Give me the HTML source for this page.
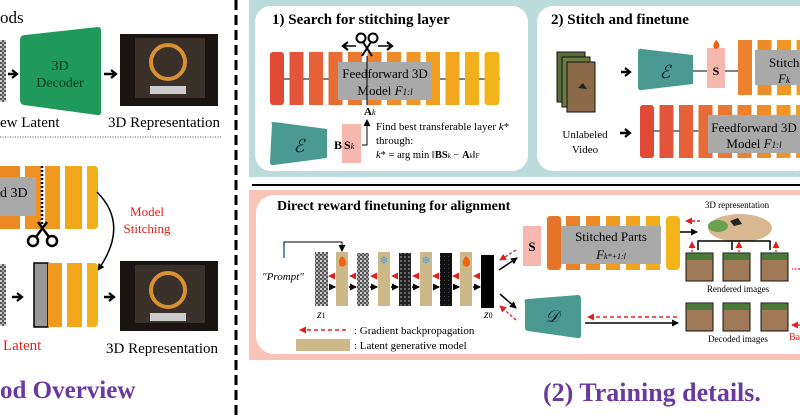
<!DOCTYPE html>
<html><head><meta charset="utf-8"><style>
html,body{margin:0;padding:0;background:#fff;}
svg{display:block;font-family:"Liberation Serif",serif;}
</style></head><body>
<svg width="800" height="419" viewBox="0 0 800 419" xmlns="http://www.w3.org/2000/svg">
<defs>
<marker id="ab" markerUnits="userSpaceOnUse" markerWidth="7" markerHeight="7" refX="6" refY="3.5" orient="auto"><path d="M0,0 L7,3.5 L0,7 z" fill="#000"/></marker>
<marker id="ar" markerUnits="userSpaceOnUse" markerWidth="7" markerHeight="7" refX="6" refY="3.5" orient="auto"><path d="M0,0 L7,3.5 L0,7 z" fill="#e0201c"/></marker>
<marker id="ac" markerUnits="userSpaceOnUse" markerWidth="8" markerHeight="10" refX="6" refY="5" orient="auto"><path d="M1,1 L6,5 L1,9" fill="none" stroke="#000" stroke-width="2.2"/></marker>
<pattern id="noise" width="4" height="4" patternUnits="userSpaceOnUse"><rect width="4" height="4" fill="#555"/><rect width="2" height="2" fill="#ccc"/><rect x="2" y="2" width="2" height="2" fill="#999"/></pattern>
<pattern id="noise2" width="4" height="4" patternUnits="userSpaceOnUse"><rect width="4" height="4" fill="#222"/><rect width="2" height="2" fill="#666"/></pattern>
<pattern id="noise3" width="4" height="4" patternUnits="userSpaceOnUse"><rect width="4" height="4" fill="#111"/><rect width="1" height="1" fill="#444"/></pattern>
</defs>

<!-- LEFT PANEL -->
<text x="0" y="23" font-size="17">ods</text>
<rect x="0" y="40" width="6" height="62" fill="url(#noise)"/>
<line x1="8" y1="74" x2="17" y2="74" stroke="#000" stroke-width="2.5" marker-end="url(#ac)"/>
<path d="M20,40 Q20,35 25,35 L98,27 Q101,27 101,31 L101,112 Q101,116 97,115 L24,105 Q20,104 20,100 Z" fill="#1f9a5a"/>
<text x="60" y="70" font-size="14" text-anchor="middle" fill="#0d3a20">3D</text>
<text x="60" y="87" font-size="14" text-anchor="middle" fill="#0d3a20">Decoder</text>
<line x1="104" y1="74" x2="116" y2="74" stroke="#000" stroke-width="2.5" marker-end="url(#ac)"/>
<rect x="120" y="34" width="98" height="72" fill="#1a1512"/>
<rect x="135" y="38" width="70" height="60" fill="#3a302a"/>
<circle cx="168" cy="62" r="17" fill="none" stroke="#d99030" stroke-width="4"/>
<rect x="150" y="86" width="36" height="8" fill="#ccc"/>
<text x="0" y="127" font-size="15">ew Latent</text>
<text x="108" y="127" font-size="15">3D Representation</text>
<line x1="0" y1="137" x2="222" y2="137" stroke="#555" stroke-width="1" stroke-dasharray="1,1.5"/>

<rect x="0" y="166" width="20" height="63" fill="#ec8a24"/>
<rect x="25" y="166" width="16" height="63" fill="#ef9222"/>
<rect x="45" y="166" width="15" height="63" fill="#f19a1e"/>
<rect x="65" y="166" width="17" height="63" fill="#f2a61c"/>
<path d="M87,166 L94,166 Q98,166 98,170 L98,225 Q98,229 94,229 L87,229 Z" fill="#f2b018"/>
<line x1="42" y1="166" x2="42" y2="225" stroke="#000" stroke-width="2.5" stroke-dasharray="2,2"/>
<rect x="0" y="177" width="36" height="39" fill="#a9a9a9"/>
<text x="0" y="197" font-size="14">d 3D</text>
<circle cx="33" cy="241" r="5" fill="none" stroke="#000" stroke-width="2.5"/>
<circle cx="52" cy="241" r="5" fill="none" stroke="#000" stroke-width="2.5"/>
<line x1="36" y1="237" x2="47" y2="222" stroke="#000" stroke-width="2.5"/>
<line x1="49" y1="237" x2="38" y2="222" stroke="#000" stroke-width="2.5"/>
<path d="M97,192 Q130,225 98,270" fill="none" stroke="#000" stroke-width="1.5" marker-end="url(#ab)"/>
<text x="147" y="216" font-size="13" fill="#e0201c" text-anchor="middle">Model</text>
<text x="147" y="233" font-size="13" fill="#e0201c" text-anchor="middle">Stitching</text>

<rect x="0" y="264" width="6" height="62" fill="url(#noise)"/>
<line x1="12" y1="297" x2="22" y2="297" stroke="#000" stroke-width="2.5" marker-end="url(#ac)"/>
<rect x="34" y="263" width="14" height="64" fill="#999" stroke="#000" stroke-width="1.5"/>
<rect x="48" y="263" width="14" height="64" fill="#ef9a1e"/>
<rect x="67" y="263" width="15" height="64" fill="#f2a61c"/>
<path d="M87,263 L94,263 Q98,263 98,267 L98,323 Q98,327 94,327 L87,327 Z" fill="#f2b018"/>
<line x1="104" y1="297" x2="114" y2="297" stroke="#000" stroke-width="2.5" marker-end="url(#ac)"/>
<rect x="120" y="261" width="98" height="70" fill="#1a1512"/>
<rect x="135" y="265" width="70" height="58" fill="#3a302a"/>
<circle cx="168" cy="290" r="17" fill="none" stroke="#d99030" stroke-width="4"/>
<rect x="150" y="313" width="36" height="8" fill="#ccc"/>
<text x="3" y="350" font-size="15" fill="#e0201c">Latent</text>
<text x="106" y="353" font-size="15">3D Representation</text>
<text x="0" y="398" font-size="25" font-weight="bold" fill="#6a3aa0">od Overview</text>

<line x1="236" y1="0" x2="236" y2="419" stroke="#000" stroke-width="3" stroke-dasharray="10,5"/>

<!-- RIGHT TOP band -->
<rect x="249" y="0" width="551" height="177" fill="#bcdcdc"/>
<rect x="255" y="6" width="273" height="165" rx="16" fill="#fff"/>
<rect x="537" y="6" width="275" height="165" rx="16" fill="#fff"/>

<text x="272" y="24" font-size="15" font-weight="bold">1) Search for stitching layer</text>
<line x1="270" y1="79" x2="500" y2="79" stroke="#000"/>
<g>
<rect x="270" y="52" width="14" height="53" rx="3" fill="#e04a35"/>
<rect x="289.5" y="52" width="14" height="53" fill="#e3553a"/>
<rect x="309" y="52" width="14" height="53" fill="#e6603a"/>
<rect x="328.5" y="52" width="14" height="53" fill="#e86c35"/>
<rect x="348" y="52" width="14" height="53" fill="#ea7830"/>
<rect x="367.5" y="52" width="14" height="53" fill="#ec822c"/>
<rect x="387" y="52" width="14" height="53" fill="#ee8c28"/>
<rect x="406.5" y="52" width="14" height="53" fill="#ef9624"/>
<rect x="426" y="52" width="14" height="53" fill="#f09e20"/>
<rect x="445.5" y="52" width="14" height="53" fill="#f1a61e"/>
<rect x="465" y="52" width="14" height="53" fill="#f2ae1c"/>
<rect x="484.5" y="52" width="15" height="53" rx="3" fill="#f2b41a"/>
</g>
<rect x="338" y="62" width="94" height="38" fill="#a9a9a9"/>
<text x="385" y="78" font-size="13" text-anchor="middle">Feedforward 3D</text>
<text x="385" y="95" font-size="13" text-anchor="middle">Model <tspan font-style="italic">F</tspan><tspan font-size="9" font-style="italic">1:l</tspan></text>
<circle cx="361" cy="38" r="4.5" fill="none" stroke="#000" stroke-width="2"/>
<circle cx="373" cy="38" r="4.5" fill="none" stroke="#000" stroke-width="2"/>
<line x1="363" y1="42" x2="372" y2="56" stroke="#000" stroke-width="2"/>
<line x1="371" y1="42" x2="362" y2="56" stroke="#000" stroke-width="2"/>
<line x1="356" y1="46" x2="343" y2="46" stroke="#000" stroke-width="1.5" marker-end="url(#ac)"/>
<line x1="378" y1="46" x2="392" y2="46" stroke="#000" stroke-width="1.5" marker-end="url(#ac)"/>
<line x1="367" y1="56" x2="367" y2="105" stroke="#000" stroke-width="1"/>
<text x="364" y="115" font-size="11" font-weight="bold">A<tspan font-size="8" font-style="italic" font-weight="normal">k</tspan></text>
<path d="M362,145 L367,145 L367,120" fill="none" stroke="#000" stroke-width="1" marker-end="url(#ab)"/>
<path d="M272,124 Q270,122 274,122 L327,129 L327,158 L274,165 Q270,166 270,162 Z" fill="#4a9a92"/>
<text x="299" y="152" font-size="18" font-style="italic" text-anchor="middle" fill="#123">ℰ</text>
<text x="334" y="149" font-size="12" font-weight="bold">B</text>
<rect x="342" y="124" width="19" height="39" fill="#f6b8ae"/>
<text x="344" y="149" font-size="12" font-weight="bold">S<tspan font-size="8" font-style="italic" font-weight="normal">k</tspan></text>
<text x="376" y="130" font-size="11">Find best transferable layer <tspan font-style="italic">k</tspan>*</text>
<text x="376" y="144" font-size="11">through:</text>
<text x="376" y="158" font-size="10.5"><tspan font-style="italic">k</tspan>* = arg min ‖<tspan font-weight="bold">BS</tspan><tspan font-size="7" font-style="italic">k</tspan> − <tspan font-weight="bold">A</tspan><tspan font-size="7" font-style="italic">k</tspan>‖<tspan font-size="7">F</tspan></text>

<!-- Box 2 -->
<text x="551" y="24" font-size="15" font-weight="bold">2) Stitch and finetune</text>
<rect x="557" y="52" width="28" height="50" fill="#5a6a3a" stroke="#111"/>
<rect x="562" y="57" width="28" height="50" fill="#6a7a40" stroke="#111"/>
<rect x="567" y="62" width="28" height="50" fill="#8a6a48" stroke="#111"/>
<path d="M578,88 l5,-5 l4,6 z" fill="#222"/>
<line x1="621" y1="72" x2="630" y2="72" stroke="#000" stroke-width="2.5" marker-end="url(#ac)"/>
<path d="M638,52 Q638,48 642,49 L693,55 L693,84 L642,90 Q638,91 638,87 Z" fill="#4a9a92"/>
<text x="665" y="78" font-size="18" font-style="italic" text-anchor="middle" fill="#123">ℰ</text>
<line x1="693" y1="71" x2="738" y2="71" stroke="#000"/>
<rect x="707" y="48" width="18" height="40" fill="#f6b8ae"/>
<text x="716" y="75" font-size="12" font-weight="bold" text-anchor="middle">S</text>
<path d="M716,40 q-4,5 -2,8 q3,2 5,-1 q1,-4 -3,-7z" fill="#f06010"/>
<rect x="738" y="40" width="14" height="55" fill="#ec822c"/>
<rect x="757.5" y="40" width="14" height="55" fill="#ee8c28"/>
<rect x="777" y="40" width="14" height="55" fill="#ef9624"/>
<rect x="796.5" y="40" width="4" height="55" fill="#f09e20"/>
<rect x="755" y="50" width="45" height="35" fill="#a9a9a9"/>
<text x="769" y="67" font-size="13">Stitche</text>
<text x="778" y="83" font-size="13" font-style="italic">F<tspan font-size="9">k</tspan></text>
<text x="585" y="138" font-size="11" text-anchor="middle">Unlabeled</text>
<text x="585" y="153" font-size="11" text-anchor="middle">Video</text>
<line x1="620" y1="133" x2="630" y2="133" stroke="#000" stroke-width="2.5" marker-end="url(#ac)"/>
<line x1="640" y1="131" x2="800" y2="131" stroke="#000"/>
<rect x="640" y="105" width="14" height="53" rx="3" fill="#e04a35"/>
<rect x="659.5" y="105" width="14" height="53" fill="#e3553a"/>
<rect x="679" y="105" width="14" height="53" fill="#e6603a"/>
<rect x="698.5" y="105" width="14" height="53" fill="#e86c35"/>
<rect x="718" y="105" width="14" height="53" fill="#ea7830"/>
<rect x="737.5" y="105" width="14" height="53" fill="#ec822c"/>
<rect x="757" y="105" width="14" height="53" fill="#ee8c28"/>
<rect x="776.5" y="105" width="14" height="53" fill="#ef9624"/>
<rect x="796" y="105" width="4" height="53" fill="#f09e20"/>
<rect x="708" y="115" width="92" height="38" fill="#a9a9a9"/>
<text x="754" y="132" font-size="13" text-anchor="middle">Feedforward 3D</text>
<text x="754" y="148" font-size="13" text-anchor="middle">Model <tspan font-style="italic">F</tspan><tspan font-size="9" font-style="italic">1:l</tspan></text>

<line x1="252" y1="185" x2="800" y2="185" stroke="#000" stroke-width="2"/>

<!-- Bottom band -->
<rect x="249" y="190" width="551" height="170" fill="#f8c4b8"/>
<rect x="256" y="195" width="560" height="159" rx="18" fill="#fff"/>
<text x="277" y="210" font-size="14" font-weight="bold">Direct reward finetuning for alignment</text>
<path d="M284,258 L284,242 L342,242 L342,251" fill="none" stroke="#000" stroke-width="1" marker-end="url(#ab)"/>
<line x1="284" y1="245" x2="284" y2="258" stroke="#2a6aa0" stroke-width="1.5"/>
<text x="262" y="280" font-size="11" font-style="italic">"Prompt"</text>
<rect x="315" y="252" width="13" height="54" fill="url(#noise)"/>
<rect x="336" y="252" width="12" height="54" fill="#cdb889"/>
<rect x="357" y="253" width="12" height="53" fill="url(#noise)"/>
<rect x="378" y="252" width="12" height="54" fill="#cdb889"/>
<rect x="399" y="253" width="12" height="53" fill="url(#noise2)"/>
<rect x="420" y="252" width="12" height="54" fill="#cdb889"/>
<rect x="440" y="253" width="12" height="53" fill="url(#noise3)"/>
<rect x="460" y="252" width="12" height="54" fill="#cdb889"/>
<rect x="481" y="255" width="13" height="53" fill="#000"/>
<path d="M342,256 q-5,5 -2,10 q4,2 6,-2 q1,-4 -4,-8z" fill="#f06010"/>
<path d="M466,256 q-5,5 -2,10 q4,2 6,-2 q1,-4 -4,-8z" fill="#f06010"/>
<text x="384" y="264" font-size="11" text-anchor="middle" fill="#4aa0e0">❄</text>
<text x="426" y="264" font-size="11" text-anchor="middle" fill="#4aa0e0">❄</text>
<g stroke="#e0201c" stroke-width="1.5" stroke-dasharray="2,1.5">
<line x1="335" y1="276" x2="329" y2="276" marker-end="url(#ar)"/>
<line x1="356" y1="276" x2="350" y2="276" marker-end="url(#ar)"/>
<line x1="377" y1="276" x2="371" y2="276" marker-end="url(#ar)"/>
<line x1="398" y1="276" x2="392" y2="276" marker-end="url(#ar)"/>
<line x1="419" y1="276" x2="413" y2="276" marker-end="url(#ar)"/>
<line x1="439" y1="276" x2="433" y2="276" marker-end="url(#ar)"/>
<line x1="459" y1="276" x2="453" y2="276" marker-end="url(#ar)"/>
<line x1="480" y1="276" x2="474" y2="276" marker-end="url(#ar)"/>
</g>
<g stroke="#000" stroke-width="1.5">
<line x1="329" y1="287" x2="335" y2="287" marker-end="url(#ab)"/>
<line x1="349" y1="287" x2="356" y2="287" marker-end="url(#ab)"/>
<line x1="370" y1="287" x2="377" y2="287" marker-end="url(#ab)"/>
<line x1="391" y1="287" x2="398" y2="287" marker-end="url(#ab)"/>
<line x1="412" y1="287" x2="419" y2="287" marker-end="url(#ab)"/>
<line x1="433" y1="287" x2="439" y2="287" marker-end="url(#ab)"/>
<line x1="453" y1="287" x2="459" y2="287" marker-end="url(#ab)"/>
<line x1="473" y1="287" x2="480" y2="287" marker-end="url(#ab)"/>
</g>
<text x="317" y="318" font-size="12" font-style="italic">z<tspan font-size="8" font-style="normal">1</tspan></text>
<text x="484" y="318" font-size="12" font-style="italic">z<tspan font-size="8" font-style="normal">0</tspan></text>
<line x1="346" y1="330" x2="300" y2="330" stroke="#e0201c" stroke-width="1.5" stroke-dasharray="4,3" marker-end="url(#ar)"/>
<text x="354" y="334" font-size="11">: Gradient backpropagation</text>
<rect x="296" y="339" width="54" height="12" fill="#cdb889"/>
<text x="354" y="349" font-size="11">: Latent generative model</text>

<line x1="499" y1="270" x2="517" y2="258" stroke="#000" stroke-width="1.5" marker-end="url(#ab)"/>
<line x1="516" y1="250" x2="500" y2="260" stroke="#e0201c" stroke-width="1.3" stroke-dasharray="3,2" marker-end="url(#ar)"/>
<line x1="500" y1="294" x2="516" y2="308" stroke="#000" stroke-width="1.5" marker-end="url(#ab)"/>
<line x1="516" y1="320" x2="500" y2="306" stroke="#e0201c" stroke-width="1.3" stroke-dasharray="3,2" marker-end="url(#ar)"/>
<rect x="523" y="226" width="18" height="40" fill="#f6b8ae"/>
<text x="532" y="251" font-size="13" font-weight="bold" text-anchor="middle">S</text>
<rect x="547" y="216" width="14" height="54" rx="3" fill="#e57428"/>
<rect x="566" y="216" width="14" height="54" fill="#ea8028"/>
<rect x="586" y="216" width="14" height="54" fill="#ee8c26"/>
<rect x="606" y="216" width="14" height="54" fill="#f09a22"/>
<rect x="626" y="216" width="14" height="54" fill="#f1a41e"/>
<rect x="646" y="216" width="14" height="54" fill="#f2ac1c"/>
<rect x="666" y="216" width="14" height="54" rx="4" fill="#f2b418"/>
<rect x="561" y="226" width="100" height="38" fill="#a9a9a9"/>
<text x="611" y="241" font-size="13" text-anchor="middle">Stitched Parts</text>
<text x="611" y="259" font-size="13" text-anchor="middle" font-style="italic">F<tspan font-size="8">k*+1:l</tspan></text>
<path d="M525,303 Q523,299 528,299 L578,295 Q581,295 581,299 L581,335 Q581,339 577,338 L528,331 Q525,331 525,327 Z" fill="#4a9a92"/>
<text x="552" y="322" font-size="17" font-style="italic" text-anchor="middle" fill="#123">𝒟</text>
<line x1="677" y1="317" x2="588" y2="317" stroke="#e0201c" stroke-width="1.5" stroke-dasharray="4,3" marker-end="url(#ar)"/>
<line x1="585" y1="323" x2="678" y2="323" stroke="#000" stroke-width="1.5" marker-end="url(#ab)"/>

<text x="737" y="208" font-size="9" text-anchor="middle">3D representation</text>
<ellipse cx="740" cy="228" rx="32" ry="14" fill="#d8b890"/>
<ellipse cx="718" cy="226" rx="10" ry="6" fill="#6aa050"/>
<path d="M730,221 l8,-3 l4,6 l-8,2z" fill="#222"/>
<line x1="700" y1="221" x2="686" y2="221" stroke="#e0201c" stroke-width="1.5" stroke-dasharray="3,2" marker-end="url(#ar)"/>
<line x1="680" y1="232" x2="697" y2="232" stroke="#000" stroke-width="1.5" marker-end="url(#ab)"/>
<path d="M698,250 L698,241 L770,241 L770,250 M732,241 L732,250" fill="none" stroke="#000" stroke-width="1.5"/>
<g stroke="#e0201c" stroke-width="1.3" stroke-dasharray="2,1.5">
<line x1="692" y1="252" x2="692" y2="242" marker-end="url(#ar)"/>
<line x1="739" y1="252" x2="739" y2="242" marker-end="url(#ar)"/>
<line x1="776" y1="252" x2="776" y2="242" marker-end="url(#ar)"/>
</g>
<g stroke="#111" stroke-width="1">
<rect x="686" y="253" width="27" height="28" fill="#a07a58"/>
<rect x="723" y="253" width="27" height="28" fill="#a07a58"/>
<rect x="761" y="253" width="27" height="28" fill="#a07a58"/>
<rect x="686" y="303" width="27" height="28" fill="#a07a58"/>
<rect x="723" y="303" width="27" height="28" fill="#a07a58"/>
<rect x="761" y="303" width="27" height="28" fill="#a07a58"/>
</g>
<g fill="#4a7a38">
<rect x="687" y="254" width="25" height="6"/><rect x="724" y="254" width="25" height="6"/><rect x="762" y="254" width="25" height="6"/>
<rect x="687" y="304" width="25" height="6"/><rect x="724" y="304" width="25" height="6"/><rect x="762" y="304" width="25" height="6"/>
</g>
<text x="738" y="292" font-size="9" text-anchor="middle">Rendered images</text>
<text x="738" y="342" font-size="9" text-anchor="middle">Decoded images</text>
<line x1="800" y1="269" x2="792" y2="269" stroke="#e0201c" stroke-width="1.3" stroke-dasharray="2,1.5"/>
<line x1="800" y1="325" x2="792" y2="325" stroke="#e0201c" stroke-width="1.3" marker-end="url(#ar)"/>
<text x="789" y="340" font-size="10" fill="#e0201c">Ba</text>

<text x="543" y="401" font-size="26" font-weight="bold" fill="#6a3aa0">(2) Training details.</text>
</svg>
</body></html>
